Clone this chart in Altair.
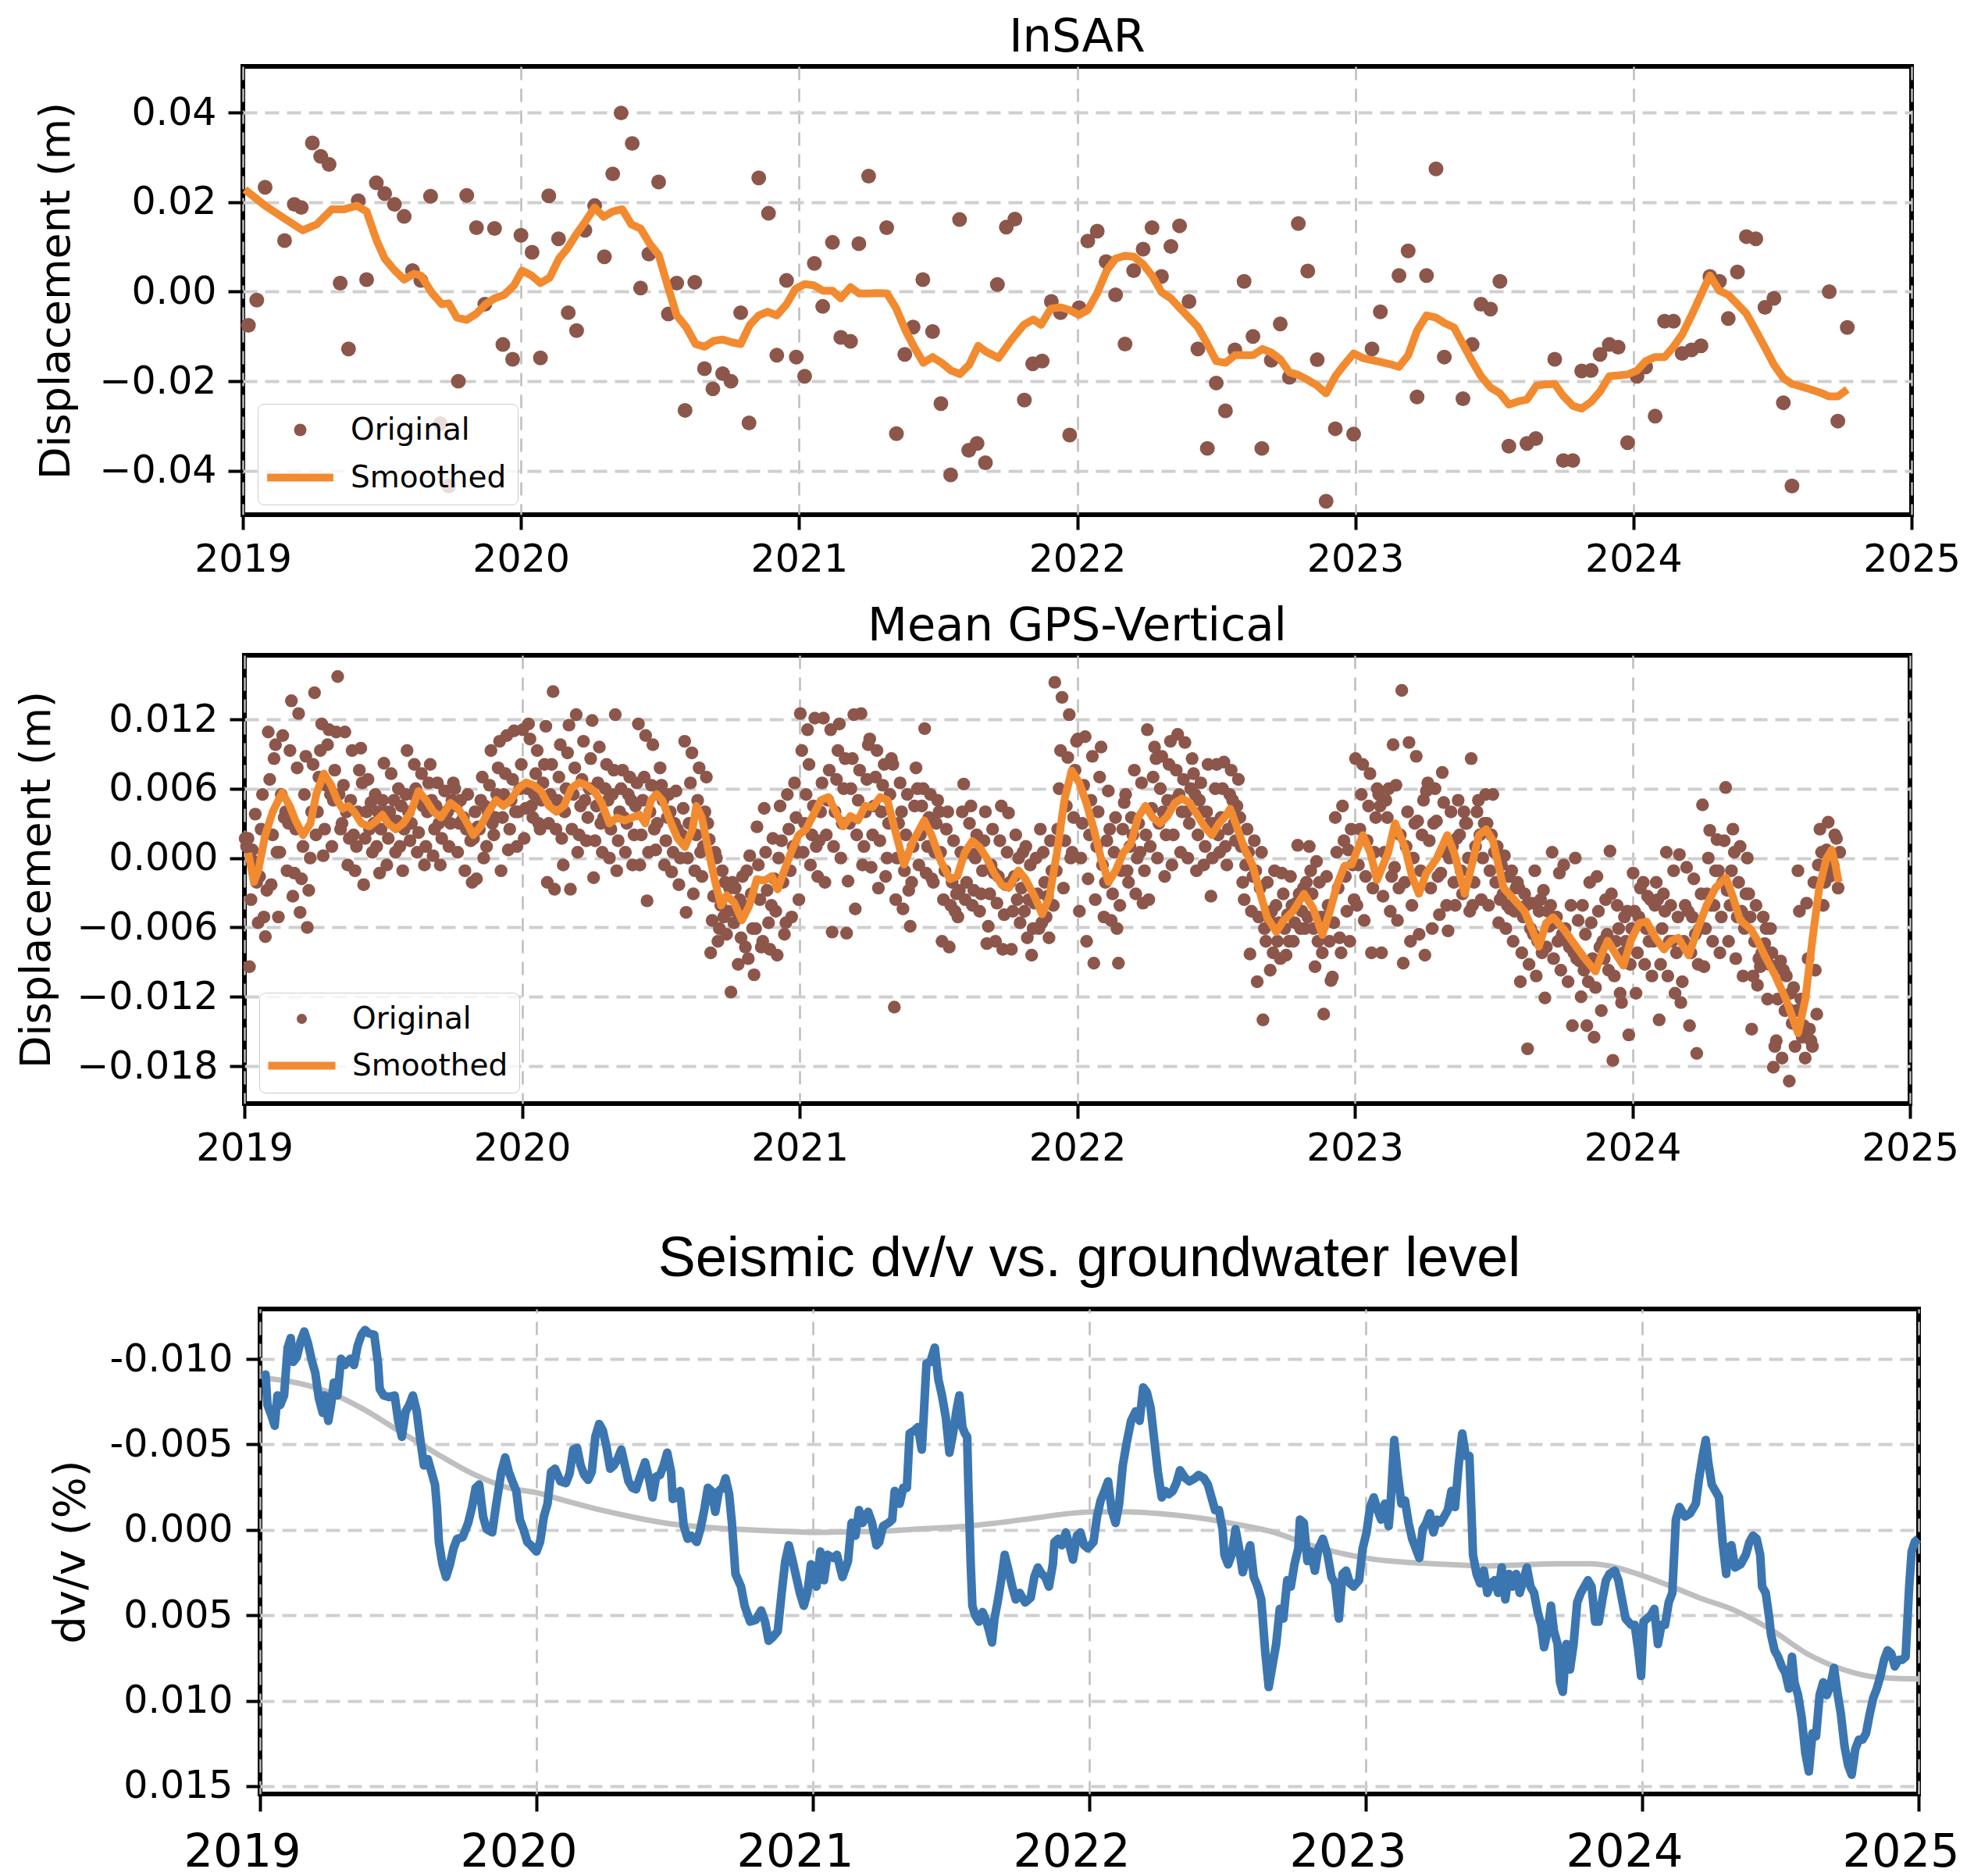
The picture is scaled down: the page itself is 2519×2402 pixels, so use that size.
import altair as alt
import pandas as pd

FONT = "DejaVu Sans"
BROWN = "#8c564b"
ORANGE = "#f28a30"
BLUE = "#3b76b0"
GRAY = "#bfbfbf"

# ---------------- data ----------------
years = [2019, 2020, 2021, 2022, 2023, 2024, 2025]
insar_ticks = [-0.04, -0.02, 0.0, 0.02, 0.04]
gps_ticks = [-0.018, -0.012, -0.006, 0.0, 0.006, 0.012]
dvv_ticks = [-0.010, -0.005, 0.0, 0.005, 0.010, 0.015]
series_names = ["Original", "Smoothed"]

# InSAR acquisitions: (decimal year, displacement m)
insar_points = [
    (2019.02, -0.0075), (2019.05, -0.0019), (2019.08, 0.0233), (2019.15, 0.0114), (2019.185, 0.0195),
    (2019.21, 0.0188), (2019.25, 0.0332), (2019.28, 0.0302), (2019.31, 0.0284), (2019.35, 0.0019),
    (2019.38, -0.0128), (2019.415, 0.0203), (2019.445, 0.0027), (2019.48, 0.0243), (2019.51, 0.0219),
    (2019.545, 0.0195), (2019.58, 0.0168), (2019.61, 0.0047), (2019.64, 0.0025), (2019.675, 0.0213),
    (2019.71, -0.0295), (2019.74, -0.0434), (2019.775, -0.0200), (2019.805, 0.0215), (2019.84, 0.0143),
    (2019.87, -0.0028), (2019.905, 0.0141), (2019.935, -0.0118), (2019.97, -0.0151), (2020.0, 0.0126),
    (2020.04, 0.0088), (2020.07, -0.0148), (2020.1, 0.0214), (2020.135, 0.0118), (2020.17, -0.0047),
    (2020.2, -0.0087), (2020.23, 0.0137), (2020.265, 0.0192), (2020.3, 0.0078), (2020.33, 0.0263),
    (2020.36, 0.0399), (2020.4, 0.0331), (2020.43, 0.0008), (2020.46, 0.0084), (2020.495, 0.0245),
    (2020.53, -0.0050), (2020.56, 0.0019), (2020.59, -0.0265), (2020.625, 0.0021), (2020.66, -0.0172),
    (2020.69, -0.0217), (2020.725, -0.0183), (2020.755, -0.0200), (2020.79, -0.0047), (2020.82, -0.0293),
    (2020.855, 0.0254), (2020.89, 0.0175), (2020.92, -0.0142), (2020.955, 0.0025), (2020.99, -0.0146),
    (2021.02, -0.0189), (2021.055, 0.0063), (2021.085, -0.0033), (2021.12, 0.0110), (2021.15, -0.0102),
    (2021.185, -0.0111), (2021.215, 0.0107), (2021.25, 0.0258), (2021.315, 0.0143), (2021.35, -0.0317),
    (2021.38, -0.0140), (2021.41, -0.0079), (2021.445, 0.0027), (2021.48, -0.0089), (2021.51, -0.0250),
    (2021.545, -0.0409), (2021.577, 0.0161), (2021.61, -0.0354), (2021.64, -0.0339), (2021.67, -0.0382),
    (2021.713, 0.0016), (2021.745, 0.0144), (2021.776, 0.0162), (2021.81, -0.0242), (2021.84, -0.0161),
    (2021.874, -0.0155), (2021.907, -0.0022), (2021.94, -0.0047), (2021.973, -0.0320), (2022.007, -0.0036),
    (2022.038, 0.0113), (2022.072, 0.0135), (2022.104, 0.0067), (2022.138, -0.0007), (2022.172, -0.0117),
    (2022.203, 0.0047), (2022.237, 0.0095), (2022.269, 0.0143), (2022.303, 0.0034), (2022.337, 0.0101),
    (2022.368, 0.0147), (2022.402, -0.0022), (2022.434, -0.0128), (2022.468, -0.0350), (2022.5, -0.0204),
    (2022.533, -0.0266), (2022.567, -0.0130), (2022.6, 0.0023), (2022.632, -0.0100), (2022.664, -0.0350),
    (2022.698, -0.0153), (2022.73, -0.0072), (2022.763, -0.0191), (2022.795, 0.0152), (2022.829, 0.0046),
    (2022.863, -0.0152), (2022.895, -0.0468), (2022.928, -0.0306), (2022.994, -0.0318), (2023.06, -0.0128),
    (2023.09, -0.0045), (2023.157, 0.0036), (2023.19, 0.0091), (2023.222, -0.0235), (2023.256, 0.0036),
    (2023.29, 0.0274), (2023.32, -0.0146), (2023.387, -0.0239), (2023.42, -0.0118), (2023.452, -0.0028),
    (2023.486, -0.0039), (2023.52, 0.0023), (2023.552, -0.0345), (2023.617, -0.0339), (2023.649, -0.0328),
    (2023.717, -0.0151), (2023.748, -0.0377), (2023.782, -0.0377), (2023.814, -0.0177), (2023.848, -0.0176),
    (2023.88, -0.0140), (2023.913, -0.0118), (2023.945, -0.0124), (2023.979, -0.0337), (2024.013, -0.0189),
    (2024.044, -0.0168), (2024.078, -0.0278), (2024.112, -0.0066), (2024.144, -0.0066), (2024.175, -0.0138),
    (2024.209, -0.0130), (2024.243, -0.0121), (2024.275, 0.0034), (2024.309, 0.0023), (2024.341, -0.0060),
    (2024.374, 0.0044), (2024.406, 0.0123), (2024.44, 0.0118), (2024.473, -0.0035), (2024.505, -0.0015),
    (2024.539, -0.0248), (2024.57, -0.0434), (2024.704, 0.0000), (2024.735, -0.0289), (2024.769, -0.0080),
]

insar_smoothed = [
    (2019.007, 0.0228), (2019.08, 0.0192), (2019.15, 0.0163), (2019.215, 0.0137), (2019.265, 0.0150),
    (2019.32, 0.0184), (2019.365, 0.0184), (2019.41, 0.0192), (2019.445, 0.0179), (2019.48, 0.0116),
    (2019.51, 0.0074), (2019.545, 0.0048), (2019.58, 0.0027), (2019.615, 0.0040), (2019.64, 0.0036),
    (2019.68, -0.0003), (2019.715, -0.0028), (2019.74, -0.0026), (2019.77, -0.0058), (2019.805, -0.0063),
    (2019.84, -0.0049), (2019.873, -0.0028), (2019.905, -0.0015), (2019.94, -0.0007), (2019.975, 0.0014),
    (2020.004, 0.0047), (2020.038, 0.0036), (2020.07, 0.0019), (2020.103, 0.0031), (2020.137, 0.0074),
    (2020.165, 0.0095), (2020.2, 0.0129), (2020.233, 0.0158), (2020.265, 0.0188), (2020.297, 0.0167),
    (2020.33, 0.0179), (2020.364, 0.0184), (2020.397, 0.0150), (2020.43, 0.0141), (2020.463, 0.0107),
    (2020.495, 0.0082), (2020.527, 0.0014), (2020.56, -0.0053), (2020.594, -0.0079), (2020.628, -0.0117),
    (2020.66, -0.0123), (2020.693, -0.0110), (2020.725, -0.0107), (2020.758, -0.0113), (2020.79, -0.0117),
    (2020.823, -0.0074), (2020.855, -0.0053), (2020.887, -0.0045), (2020.92, -0.0053), (2020.955, -0.0028),
    (2020.987, 0.0006), (2021.02, 0.0017), (2021.054, 0.0014), (2021.086, 0.0002), (2021.12, 0.0002),
    (2021.15, -0.0015), (2021.185, 0.0010), (2021.216, -0.0004), (2021.25, -0.0004), (2021.282, -0.0003),
    (2021.316, -0.0004), (2021.348, -0.0036), (2021.383, -0.0087), (2021.415, -0.0125), (2021.447, -0.0159),
    (2021.48, -0.0146), (2021.513, -0.0159), (2021.546, -0.0176), (2021.578, -0.0184), (2021.612, -0.0163),
    (2021.644, -0.0121), (2021.672, -0.0134), (2021.717, -0.0148), (2021.763, -0.0108), (2021.808, -0.0074),
    (2021.842, -0.0062), (2021.87, -0.0074), (2021.905, -0.0038), (2021.94, -0.0035), (2021.973, -0.0041),
    (2022.007, -0.0052), (2022.038, -0.0041), (2022.072, -0.0003), (2022.106, 0.0047), (2022.138, 0.0074),
    (2022.172, 0.0080), (2022.203, 0.0078), (2022.237, 0.0061), (2022.269, 0.0036), (2022.303, -0.0001),
    (2022.337, -0.0015), (2022.368, -0.0036), (2022.402, -0.0058), (2022.434, -0.0079), (2022.468, -0.0117),
    (2022.5, -0.0155), (2022.533, -0.0159), (2022.567, -0.0142), (2022.6, -0.0142), (2022.632, -0.0142),
    (2022.666, -0.0128), (2022.698, -0.0136), (2022.73, -0.0151), (2022.763, -0.0180), (2022.795, -0.0186),
    (2022.829, -0.0197), (2022.863, -0.0210), (2022.895, -0.0227), (2022.928, -0.0189), (2022.96, -0.0163),
    (2022.994, -0.0138), (2023.026, -0.0148), (2023.06, -0.0153), (2023.09, -0.0157), (2023.125, -0.0162),
    (2023.157, -0.0168), (2023.19, -0.0142), (2023.222, -0.0087), (2023.256, -0.0053), (2023.29, -0.0058),
    (2023.32, -0.0070), (2023.355, -0.0080), (2023.387, -0.0117), (2023.42, -0.0155), (2023.452, -0.0189),
    (2023.486, -0.0214), (2023.52, -0.0227), (2023.552, -0.0252), (2023.586, -0.0245), (2023.617, -0.0241),
    (2023.651, -0.0210), (2023.683, -0.0207), (2023.717, -0.0206), (2023.748, -0.0233), (2023.782, -0.0255),
    (2023.814, -0.0261), (2023.848, -0.0246), (2023.88, -0.0223), (2023.913, -0.0189), (2023.945, -0.0187),
    (2023.979, -0.0185), (2024.013, -0.0176), (2024.044, -0.0155), (2024.078, -0.0146), (2024.112, -0.0146),
    (2024.144, -0.0123), (2024.175, -0.0096), (2024.209, -0.0053), (2024.243, -0.0007), (2024.275, 0.0036),
    (2024.309, 0.0002), (2024.341, -0.0007), (2024.374, -0.0028), (2024.406, -0.0049), (2024.44, -0.0087),
    (2024.473, -0.0125), (2024.505, -0.0163), (2024.539, -0.0193), (2024.57, -0.0206), (2024.604, -0.0212),
    (2024.636, -0.0218), (2024.67, -0.0225), (2024.704, -0.0234), (2024.735, -0.0234), (2024.769, -0.0218),
]

# GPS daily solutions, in mm, grouped per month (Jan..Dec) for each year
gps_2019 = [
    [1.7, 0.7, -1.6, -2.8, -3.6, -5.6, -6.8, -9.4, -2.1, -5.1, 1.7, 3.8, 5.5, 1.0, -0.3, 2.5],
    [10.9, 9.8, 10.6, 9.3, 8.6, 5.5, 3.0, 2.0, 0.5, -1.1, -2.3, -5.1, 4.0, 6.8, 0.5, 3.5],
    [13.6, 12.5, 8.8, 8.1, 7.8, 5.5, 4.0, 2.5, 1.0, 0.0, -1.3, -1.8, -2.8, -3.3, -4.7, -6.0],
    [14.3, 11.6, 11.1, 10.9, 9.3, 9.8, 7.6, 7.0, 6.3, 5.0, 4.0, 2.5, 1.0, 2.0, 0.2, 5.5],
    [15.7, 10.9, 9.3, 7.6, 6.3, 5.0, 4.0, 3.0, 1.7, 1.0, 2.5, -0.6, -1.1, 5.5, 4.0, 2.0],
    [9.5, 6.8, 5.5, 5.0, 4.0, 3.0, 2.5, 1.7, 0.5, -1.3, -2.3, 4.8, 4.0, 6.5, 2.5, 1.0],
    [8.2, 7.3, 6.0, 5.5, 4.0, 3.2, 2.5, 1.7, 0.5, -1.1, -0.6, 5.0, 4.5, 4.0, 3.0, 1.0],
    [9.3, 8.1, 7.3, 6.5, 5.5, 5.0, 4.0, 3.0, 2.2, 1.0, 1.5, 0.5, -0.6, 4.0, 6.0, 4.5],
    [8.1, 6.5, 5.8, 5.0, 4.5, 3.5, 3.0, 2.5, 1.7, 1.0, 0.2, -0.6, 4.0, 5.0, 3.0, 4.0],
    [6.5, 5.0, 5.5, 4.0, 3.0, 2.5, 1.7, 0.5, -1.1, -2.1, 4.5, 3.5, 1.5, 6.0, 3.2, 2.5],
    [-1.8, 0.0, 9.3, 7.8, 7.0, 6.3, 5.5, 5.0, 4.0, 3.5, 2.5, 1.0, 2.0, 2.7, 4.5, 3.0],
    [10.1, 10.6, 11.0, 8.1, 7.3, 6.8, 6.0, 5.5, 5.0, 4.0, 3.5, 2.5, 1.0, -1.1, 0.7, 4.0],
]
gps_2020 = [
    [11.1, 10.3, 9.3, 8.1, 11.6, 7.3, 6.5, 6.0, 5.5, 5.0, 4.3, 3.5, 2.5, 1.7, 4.5, 3.0],
    [11.4, 14.4, 9.8, 9.1, 8.1, 7.0, 6.0, 5.5, 5.0, 4.0, 3.0, 2.5, -0.6, -2.1, -2.7, 1.7],
    [11.5, 12.4, 10.1, 8.6, 7.8, 6.8, 6.0, 5.5, 4.5, 3.5, 2.5, 2.0, 1.5, -2.7, 0.5, 5.0],
    [11.9, 9.6, 8.1, 7.6, 6.5, 6.0, 5.5, 4.5, 3.5, 2.5, 1.5, 0.5, 0.0, -1.7, 3.0, 5.0],
    [12.4, 7.6, 7.0, 6.5, 6.0, 5.5, 4.5, 4.0, 3.0, 2.0, 1.5, 0.5, -0.6, -1.1, 3.5, 5.0],
    [11.6, 10.6, 9.8, 7.8, 7.0, 6.3, 5.5, 5.0, 4.0, 3.0, 2.0, 0.5, 0.7, -0.6, -3.7, 2.5],
    [6.3, 5.5, 5.8, 4.3, 3.5, 3.0, 2.0, 1.5, 0.5, 0.0, -0.6, -1.2, -2.3, 5.0, 4.0, 2.5],
    [10.1, 9.1, 7.8, 7.0, 6.5, 5.0, 4.0, 3.0, 2.0, 1.0, 0.0, -1.1, -1.6, -4.7, -3.1, 0.5],
    [3.0, 0.5, -1.1, -2.6, -3.3, -4.1, -4.6, -5.4, -6.1, -6.6, -8.2, -7.2, -2.1, 1.6, 0.0, -5.1],
    [-11.6, -9.2, -7.7, -6.1, -4.6, -4.1, -3.1, -2.6, -1.6, 0.2, -5.6, -6.9, -8.7, -2.1, -3.6, -1.1],
    [-10.1, -7.7, -5.6, -4.6, -3.6, -2.8, -1.8, -0.6, 0.5, 1.7, 2.7, 4.3, -4.1, -6.1, -7.2, -7.9],
    [-8.4, -6.6, -5.1, -3.6, -2.1, -1.1, 0.5, 1.5, 2.5, 3.5, 4.5, 5.5, 6.5, 0.0, -5.6, 1.0],
]
gps_2021 = [
    [12.5, 11.1, 12.1, 6.5, 5.5, 4.5, 4.0, 3.0, 2.0, 1.5, 0.5, -0.6, -1.6, 9.3, 8.1, 1.0],
    [12.1, 11.1, 9.3, 8.6, 7.6, 6.8, 6.0, 5.0, 4.0, 3.0, 2.0, 1.0, 0.0, -2.1, -6.4, 11.6],
    [-6.5, 12.4, 12.5, 9.8, 8.6, 7.6, 6.8, 6.0, 5.0, 4.0, 3.0, 2.0, 1.0, -2.0, -4.4, -0.6],
    [10.3, 9.3, 8.1, 8.6, 7.0, 6.3, 5.5, 4.5, 4.0, 3.0, 2.0, 1.5, 0.0, -0.8, -2.6, -1.6],
    [8.1, 6.5, 5.5, 4.5, 3.0, 2.0, 1.0, 0.0, -1.1, -2.1, -3.6, -4.4, -5.9, -12.9, 4.0, -2.8],
    [7.8, 6.0, 5.5, 5.0, 4.5, 3.5, 3.0, 2.0, 1.0, 0.5, -0.6, -1.3, -2.1, 6.0, 11.2, -1.8],
    [4.0, 2.5, 1.5, 0.5, -1.1, -2.1, -2.8, -3.6, -4.1, -5.1, -7.2, -7.7, -3.1, 0.5, 4.0, -4.6],
    [4.0, 3.0, 2.0, 1.5, 0.5, 0.0, -1.1, -2.1, -2.8, -3.1, -3.6, -4.1, -4.6, 6.4, 4.5, 0.5],
    [4.0, 2.5, 1.5, 0.5, -0.6, -1.6, -2.3, -3.1, -3.9, -4.9, -5.9, -7.2, -7.9, -7.4, -1.3, 4.5],
    [3.9, 2.0, 0.5, -0.6, -1.6, -2.6, -3.6, -4.6, -5.6, -6.9, -7.9, 0.0, 1.0, -2.1, -3.6, -4.6],
    [-8.4, -6.1, -5.1, -4.1, -3.1, -2.1, -1.1, 0.0, 0.5, 1.5, -3.9, -5.6, -6.9, -6.1, 2.5, -3.3],
    [15.2, 13.9, 12.4, 10.1, 9.3, 8.7, 7.6, 6.0, 4.5, 3.5, 2.5, 1.5, 0.5, -1.1, -2.6, 0.0],
]
gps_2022 = [
    [10.3, 10.5, 8.8, 7.0, 6.3, 5.0, 4.0, 3.0, 2.0, 1.0, 0.0, -1.8, -3.6, -4.6, -7.2, -9.1],
    [9.6, 5.8, 3.5, 2.5, 1.5, 0.5, -1.1, -2.1, -3.1, -4.1, -5.1, -5.4, -9.1, -0.6, 2.5, -6.1],
    [4.8, 3.5, 3.0, 2.0, 1.0, 0.0, -1.1, -2.1, -3.1, -3.9, -1.1, 7.6, 6.5, 5.5, 2.0, 0.5],
    [11.1, 9.6, 8.8, 8.1, 7.0, 6.0, 5.0, 4.3, 3.0, 2.0, 1.0, 0.0, -1.6, -3.6, 8.6, 4.0],
    [10.1, 10.7, 10.0, 8.6, 7.6, 6.8, 6.0, 5.0, 4.0, 3.0, 2.0, 0.5, 0.0, -0.6, 5.5, 4.0],
    [7.3, 6.5, 8.1, 6.0, 5.0, 4.0, 3.0, 2.0, 1.0, 0.0, -1.1, -0.6, -3.3, 5.5, 4.0, 3.0],
    [8.1, 8.3, 7.6, 6.8, 6.0, 5.5, 4.5, 3.5, 2.5, 1.5, 0.5, -0.6, 3.0, 2.0, 1.0, 5.0],
    [3.5, 2.5, 1.5, 0.5, -0.6, -1.6, -2.6, -3.6, -4.6, -5.1, -2.1, -8.3, -10.7, 1.0, 0.5, -1.1],
    [-14.0, -9.7, -7.2, -6.1, -5.1, -4.1, -3.1, -2.1, -1.1, -1.3, -7.2, -8.2, -8.7, -6.1, -4.6, -5.6],
    [-8.4, -7.2, -6.1, -5.1, -4.1, -3.1, -2.1, -1.6, 1.1, -6.1, -7.2, -3.9, -2.6, -4.9, -5.6, -4.6],
    [1.0, -0.3, -13.5, -10.6, -9.4, -8.2, -7.2, -6.1, -5.1, -4.1, -3.1, -2.1, -1.6, -1.1, -7.2, -5.1],
    [-10.3, -6.9, -4.6, -3.6, -2.6, -1.6, -0.6, 0.5, 1.5, 2.5, 3.5, 4.5, -7.2, -5.6, -8.2, 0.7],
]
gps_2023 = [
    [8.6, 8.1, 7.3, 6.0, 5.5, 4.5, 3.5, 2.5, 1.5, 0.5, -0.6, -1.6, -2.6, -4.1, -5.4, -8.2],
    [5.5, 5.0, 9.8, 2.0, 0.5, -1.6, -2.6, -3.3, -4.6, -5.4, -8.2, 6.0, 6.3, 4.5, 3.5, -0.8],
    [14.5, 10.0, 8.8, 5.0, 4.0, 3.0, 2.0, 1.0, 0.0, -1.1, -2.1, -4.1, -6.6, -9.1, -7.2, 3.2],
    [-8.4, -6.1, -4.9, -4.1, -2.6, -1.6, 0.5, 1.5, 3.2, 4.8, 6.5, 6.0, 7.4, 5.8, 3.0, -1.3],
    [-6.3, -4.1, -3.1, -4.6, -2.1, -1.1, 0.0, 1.0, 2.0, 3.0, 4.0, 5.0, 3.0, 0.0, 1.7, 4.0],
    [8.6, 5.0, 5.5, 5.5, 4.0, 3.0, 2.0, 1.0, 0.0, -1.1, -2.1, -3.6, -4.1, -4.1, 2.0, 3.0],
    [0.5, -0.6, -1.6, -2.6, -3.6, -4.1, -4.6, -5.6, -6.1, -7.2, 1.0, 0.2, -1.1, -2.1, -3.1, -4.4],
    [-2.1, -3.1, -3.9, -4.6, -5.1, -6.1, -7.2, -8.2, -9.2, -10.2, -10.7, -16.5, -1.1, -2.6, -4.1, -6.6],
    [-3.6, -4.6, -5.6, -6.6, -7.7, -8.7, -9.7, -12.1, 0.5, -1.3, -2.8, -4.1, -7.2, -8.2, -5.9, -5.1],
    [-0.6, -4.1, -5.4, -6.6, -7.7, -8.7, -9.7, -10.7, 0.0, -4.1, -7.2, -8.2, -12.0, -6.1, -14.5, -8.9],
    [-14.5, -15.5, -13.2, -9.7, -8.7, -7.7, -6.6, -5.6, -4.6, -3.6, -2.1, -1.6, -8.7, -10.7, -11.2, -7.2],
    [0.6, -4.1, -5.1, -6.1, -7.2, -8.2, -9.2, -10.2, -12.5, -15.3, -17.5, -11.7, -4.6, -3.1, -6.1, -7.2],
]
gps_2024 = [
    [-1.3, -2.6, -3.3, -4.1, -5.1, -6.1, -7.2, -8.2, -9.2, -10.2, -11.7, -2.1, -3.6, -4.6, -5.6, -7.2],
    [-2.1, -3.1, -4.1, -5.1, -6.1, -7.2, -8.2, -9.2, -10.2, -11.7, -14.0, 0.5, -1.1, -3.6, -4.6, -7.2],
    [0.3, -0.8, -1.8, -3.1, -4.1, -5.1, -6.1, -7.2, -8.2, -9.2, -10.7, -14.5, -16.9, -12.5, -4.6, -6.6],
    [4.6, 2.4, 1.6, 1.5, 0.0, -1.1, -2.1, -3.1, -4.1, -5.1, -6.1, -7.2, -8.2, -9.4, -4.1, -1.1],
    [6.1, 2.5, 1.0, 0.0, -1.1, -2.1, -3.1, -4.1, -5.1, -6.1, -7.2, -8.7, -10.2, -2.8, 0.5, -4.6],
    [-3.1, -4.1, -5.1, -6.1, -7.2, -8.2, -9.2, -10.2, -9.4, -12.2, -14.8, -8.7, -6.1, -5.1, -11.0, -7.4],
    [-8.2, -9.2, -10.2, -11.2, -12.2, -13.2, -14.3, -15.8, -9.7, -11.7, -16.3, -17.3, -19.3, -18.1, -8.9, -13.0],
    [-16.3, -15.5, -14.8, -13.5, -12.2, -8.7, -9.7, -4.6, -3.9, -2.1, -1.1, -17.3, -16.3, -13.2, -14.5, -15.8],
    [-0.6, 0.7, 2.0, 2.5, 3.1, 1.7, 0.5, -1.6, -2.6, -4.1, -1.1, 0.5, -2.1, -0.6],
]

# GPS smoothed curve: (decimal year, mm)
gps_smoothed = [
    (2019.014, 0.46), (2019.034, -2.08), (2019.05, -1.07), (2019.075, 1.98), (2019.102, 4.0), (2019.136, 5.66),
    (2019.163, 4.51), (2019.184, 3.25), (2019.211, 1.98), (2019.238, 2.99), (2019.259, 5.53), (2019.286, 7.3),
    (2019.313, 6.29), (2019.334, 5.02), (2019.354, 4.26), (2019.375, 4.51), (2019.395, 4.0), (2019.422, 2.99),
    (2019.45, 2.74), (2019.477, 3.25), (2019.497, 3.75), (2019.518, 2.99), (2019.545, 2.49), (2019.572, 2.99),
    (2019.6, 4.0), (2019.627, 5.78), (2019.654, 5.02), (2019.681, 4.0), (2019.708, 3.5), (2019.742, 4.77),
    (2019.77, 4.26), (2019.797, 3.25), (2019.824, 1.98), (2019.851, 2.74), (2019.879, 4.0), (2019.906, 5.02),
    (2019.933, 4.51), (2019.96, 5.02), (2019.988, 6.04), (2020.015, 6.54), (2020.042, 6.29), (2020.069, 5.78),
    (2020.097, 4.51), (2020.124, 4.0), (2020.151, 4.51), (2020.178, 6.04), (2020.206, 6.54), (2020.233, 6.29),
    (2020.26, 5.78), (2020.287, 4.77), (2020.315, 2.99), (2020.342, 3.5), (2020.369, 3.25), (2020.396, 3.5),
    (2020.424, 3.75), (2020.444, 2.99), (2020.465, 5.02), (2020.485, 5.53), (2020.505, 5.02), (2020.533, 3.25),
    (2020.56, 1.72), (2020.587, 0.96), (2020.614, 2.49), (2020.628, 4.51), (2020.648, 3.5), (2020.669, 0.96),
    (2020.696, -2.08), (2020.717, -4.11), (2020.737, -3.22), (2020.764, -3.85), (2020.792, -5.38), (2020.819, -4.11),
    (2020.846, -1.83), (2020.873, -1.95), (2020.9, -1.57), (2020.921, -2.71), (2020.941, -1.32), (2020.969, 0.46),
    (2020.996, 1.98), (2021.023, 2.49), (2021.05, 3.75), (2021.077, 5.02), (2021.104, 5.27), (2021.13, 4.0),
    (2021.157, 2.74), (2021.183, 3.63), (2021.21, 3.25), (2021.236, 4.51), (2021.263, 4.39), (2021.29, 5.27),
    (2021.316, 5.02), (2021.343, 2.49), (2021.376, -0.56), (2021.409, 1.47), (2021.449, 3.25), (2021.475, 1.98),
    (2021.509, -0.3), (2021.542, -1.83), (2021.568, -1.57), (2021.595, 0.46), (2021.622, 1.47), (2021.648, 0.96),
    (2021.675, -0.05), (2021.701, -1.32), (2021.728, -2.33), (2021.754, -2.59), (2021.788, -1.07), (2021.814, -1.83),
    (2021.847, -3.35), (2021.874, -4.87), (2021.9, -3.35), (2021.927, 0.46), (2021.954, 5.02), (2021.98, 7.56),
    (2022.007, 6.54), (2022.033, 4.77), (2022.06, 2.49), (2022.086, -0.05), (2022.113, -2.08), (2022.139, -1.07),
    (2022.166, 0.46), (2022.193, 1.22), (2022.219, 3.5), (2022.246, 4.51), (2022.272, 3.5), (2022.299, 2.99),
    (2022.325, 3.63), (2022.352, 4.77), (2022.378, 5.15), (2022.405, 4.77), (2022.432, 3.75), (2022.458, 2.74),
    (2022.485, 1.98), (2022.511, 2.99), (2022.538, 3.75), (2022.551, 4.26), (2022.578, 2.49), (2022.604, 0.71),
    (2022.631, -0.56), (2022.657, -2.84), (2022.684, -5.12), (2022.717, -6.39), (2022.744, -5.38), (2022.777, -4.62),
    (2022.817, -3.09), (2022.85, -4.36), (2022.883, -6.64), (2022.91, -4.62), (2022.936, -2.33), (2022.963, -0.68),
    (2022.989, -0.56), (2023.029, 1.98), (2023.056, 0.46), (2023.08, -1.9), (2023.12, 0.46), (2023.145, 3.0),
    (2023.18, 0.96), (2023.206, -1.57), (2023.231, -3.09), (2023.257, -1.32), (2023.295, -0.05), (2023.333, 1.98),
    (2023.358, 0.46), (2023.396, -3.09), (2023.422, -0.56), (2023.447, 1.98), (2023.473, 2.49), (2023.498, 1.47),
    (2023.536, -2.59), (2023.574, -3.6), (2023.612, -4.62), (2023.638, -6.14), (2023.663, -7.66), (2023.689, -5.63),
    (2023.714, -5.12), (2023.752, -6.14), (2023.79, -7.41), (2023.828, -8.67), (2023.867, -9.81), (2023.892, -8.17),
    (2023.911, -7.15), (2023.943, -8.42), (2023.968, -9.31), (2023.994, -7.15), (2024.025, -5.63), (2024.051, -5.5),
    (2024.083, -6.9), (2024.114, -7.91), (2024.14, -7.15), (2024.165, -6.9), (2024.203, -8.42), (2024.235, -6.14),
    (2024.267, -4.11), (2024.299, -2.59), (2024.337, -1.7), (2024.362, -3.35), (2024.388, -5.38), (2024.426, -6.14),
    (2024.451, -7.15), (2024.476, -8.42), (2024.515, -10.19), (2024.553, -12.22), (2024.597, -15.14), (2024.623, -12.22),
    (2024.648, -7.15), (2024.673, -2.59), (2024.699, -0.05), (2024.718, 0.71), (2024.731, -0.56), (2024.743, -2.08),
]

# seismic dv/v (decimal year, value x 1e-3)
dvv_series = [
    (2019.007, -8.99), (2019.02, -9.09), (2019.027, -7.31), (2019.04, -6.75), (2019.053, -6.10), (2019.063, -7.87),
    (2019.073, -7.31), (2019.087, -7.87), (2019.1, -10.67), (2019.111, -11.23), (2019.12, -9.83), (2019.133, -10.11),
    (2019.147, -11.05), (2019.16, -11.61), (2019.173, -10.95), (2019.187, -9.93), (2019.2, -9.18), (2019.213, -7.69),
    (2019.227, -6.85), (2019.233, -7.87), (2019.247, -6.38), (2019.257, -7.31), (2019.267, -8.62), (2019.28, -7.87),
    (2019.293, -10.02), (2019.307, -9.65), (2019.327, -10.02), (2019.34, -9.65), (2019.353, -10.77), (2019.367, -11.42),
    (2019.38, -11.70), (2019.393, -11.51), (2019.413, -11.42), (2019.427, -9.74), (2019.433, -8.25), (2019.447, -7.87),
    (2019.467, -7.78), (2019.487, -7.87), (2019.5, -6.38), (2019.513, -5.45), (2019.527, -6.94), (2019.54, -7.31),
    (2019.553, -7.87), (2019.567, -6.94), (2019.58, -5.26), (2019.593, -3.77), (2019.607, -4.14), (2019.62, -3.40),
    (2019.633, -2.65), (2019.64, -1.34), (2019.647, 0.71), (2019.66, 2.02), (2019.673, 2.76), (2019.687, 2.02),
    (2019.7, 1.08), (2019.713, 0.52), (2019.733, 0.43), (2019.753, -0.41), (2019.767, -1.34), (2019.78, -2.46),
    (2019.793, -2.65), (2019.807, -0.78), (2019.82, -0.04), (2019.84, 0.15), (2019.853, -1.34), (2019.873, -3.40),
    (2019.887, -4.24), (2019.9, -3.40), (2019.913, -2.84), (2019.927, -2.28), (2019.94, -0.60), (2019.953, -0.04),
    (2019.967, 0.71), (2019.98, 0.90), (2020.0, 1.27), (2020.013, 0.71), (2020.027, -0.78), (2020.04, -1.53),
    (2020.053, -3.40), (2020.067, -3.58), (2020.087, -2.84), (2020.107, -2.74), (2020.12, -3.30), (2020.133, -4.70),
    (2020.147, -4.80), (2020.16, -3.77), (2020.173, -3.21), (2020.187, -2.93), (2020.2, -3.40), (2020.213, -5.45),
    (2020.227, -6.20), (2020.24, -5.82), (2020.253, -4.89), (2020.267, -3.58), (2020.28, -3.77), (2020.293, -4.14),
    (2020.307, -4.70), (2020.32, -3.77), (2020.333, -2.84), (2020.347, -2.46), (2020.36, -2.37), (2020.373, -3.02),
    (2020.393, -3.96), (2020.407, -3.02), (2020.42, -1.90), (2020.433, -3.12), (2020.447, -3.21), (2020.46, -3.77),
    (2020.473, -4.52), (2020.487, -3.40), (2020.493, -1.81), (2020.507, -1.90), (2020.52, -2.28), (2020.533, -0.22),
    (2020.547, 0.52), (2020.56, 0.34), (2020.58, 0.71), (2020.593, -0.04), (2020.607, -1.16), (2020.62, -2.46),
    (2020.633, -2.28), (2020.647, -1.06), (2020.66, -2.28), (2020.673, -2.46), (2020.684, -3.02), (2020.697, -2.09),
    (2020.707, -0.41), (2020.72, 2.58), (2020.74, 3.32), (2020.753, 4.44), (2020.773, 5.37), (2020.793, 5.28),
    (2020.813, 4.72), (2020.827, 5.37), (2020.84, 6.49), (2020.853, 6.31), (2020.873, 5.93), (2020.887, 3.69),
    (2020.9, 1.83), (2020.913, 0.90), (2020.927, 1.83), (2020.94, 2.76), (2020.953, 3.69), (2020.967, 4.44),
    (2020.98, 3.69), (2020.993, 2.02), (2021.0, 2.76), (2021.013, 3.32), (2021.027, 1.27), (2021.04, 2.95),
    (2021.053, 1.46), (2021.073, 1.64), (2021.087, 1.46), (2021.107, 2.76), (2021.127, 1.83), (2021.14, -0.41),
    (2021.154, 0.34), (2021.167, -1.16), (2021.18, -0.41), (2021.2, -1.06), (2021.214, -0.41), (2021.23, 0.90),
    (2021.24, 0.71), (2021.254, -0.22), (2021.274, -0.41), (2021.287, -0.60), (2021.296, -2.28), (2021.314, -1.53),
    (2021.327, -2.46), (2021.34, -2.46), (2021.35, -5.64), (2021.367, -5.82), (2021.38, -6.01), (2021.394, -4.70),
    (2021.4, -6.38), (2021.411, -9.74), (2021.425, -9.83), (2021.441, -10.67), (2021.454, -8.81), (2021.467, -7.87),
    (2021.481, -6.57), (2021.494, -4.52), (2021.507, -5.64), (2021.521, -7.13), (2021.53, -7.87), (2021.541, -6.01),
    (2021.55, -5.64), (2021.558, -5.45), (2021.563, -2.28), (2021.571, 2.02), (2021.577, 4.44), (2021.587, 5.00),
    (2021.601, 5.37), (2021.614, 4.81), (2021.628, 5.37), (2021.638, 5.93), (2021.648, 6.59), (2021.657, 5.19),
    (2021.668, 4.25), (2021.681, 2.95), (2021.694, 1.46), (2021.708, 2.39), (2021.721, 3.32), (2021.734, 4.07),
    (2021.748, 3.69), (2021.768, 4.25), (2021.788, 3.97), (2021.801, 2.76), (2021.814, 2.20), (2021.828, 2.58),
    (2021.841, 2.76), (2021.854, 3.32), (2021.868, 2.02), (2021.874, 0.71), (2021.888, 0.52), (2021.901, 0.90),
    (2021.915, 0.15), (2021.928, 0.90), (2021.941, 1.74), (2021.955, 0.34), (2021.968, 0.15), (2021.981, 0.90),
    (2021.995, 1.08), (2022.015, 0.71), (2022.028, -0.78), (2022.041, -1.72), (2022.055, -2.28), (2022.068, -2.84),
    (2022.081, -1.16), (2022.095, -0.41), (2022.108, -1.53), (2022.121, -3.77), (2022.135, -5.08), (2022.151, -6.38),
    (2022.168, -6.94), (2022.182, -6.38), (2022.195, -8.34), (2022.208, -8.06), (2022.222, -7.13), (2022.235, -5.26),
    (2022.248, -3.40), (2022.262, -1.90), (2022.275, -2.28), (2022.288, -2.09), (2022.302, -2.28), (2022.315, -2.74),
    (2022.328, -3.49), (2022.348, -3.02), (2022.362, -2.84), (2022.382, -3.02), (2022.395, -3.21), (2022.415, -3.02),
    (2022.429, -2.65), (2022.442, -1.90), (2022.455, -1.16), (2022.469, -1.16), (2022.482, -0.04), (2022.489, 1.46),
    (2022.502, 2.02), (2022.515, 1.46), (2022.529, -0.04), (2022.542, 1.08), (2022.555, 2.48), (2022.569, 1.64),
    (2022.582, 0.90), (2022.595, 2.76), (2022.609, 3.32), (2022.622, 4.07), (2022.636, 7.05), (2022.649, 9.20),
    (2022.662, 7.99), (2022.676, 6.68), (2022.689, 4.63), (2022.702, 5.19), (2022.716, 2.95), (2022.729, 3.32),
    (2022.742, 2.02), (2022.756, 1.08), (2022.762, -0.60), (2022.776, -0.41), (2022.789, 1.83), (2022.802, 1.27),
    (2022.816, 2.39), (2022.829, 1.08), (2022.845, 0.52), (2022.862, 1.46), (2022.876, 2.76), (2022.889, 3.13),
    (2022.903, 5.19), (2022.916, 2.58), (2022.929, 2.39), (2022.943, 3.13), (2022.956, 3.32), (2022.976, 2.95),
    (2022.989, 1.08), (2023.003, 0.15), (2023.016, -1.34), (2023.029, -1.90), (2023.043, -1.16), (2023.056, -0.60),
    (2023.069, -1.53), (2023.083, -0.22), (2023.09, -1.53), (2023.103, -5.26), (2023.116, -3.21), (2023.129, -1.53),
    (2023.142, -1.72), (2023.155, -0.41), (2023.168, 0.52), (2023.181, 1.08), (2023.194, 1.64), (2023.206, -0.04),
    (2023.219, -0.41), (2023.232, -0.97), (2023.245, 0.15), (2023.258, -0.60), (2023.271, -0.41), (2023.284, -0.78),
    (2023.297, -1.16), (2023.31, -2.28), (2023.323, -1.34), (2023.336, -3.77), (2023.349, -5.64), (2023.362, -4.33),
    (2023.375, -4.33), (2023.388, 1.46), (2023.401, 2.58), (2023.414, 3.13), (2023.427, 2.39), (2023.44, 3.69),
    (2023.453, 3.13), (2023.466, 2.95), (2023.479, 3.69), (2023.492, 2.20), (2023.505, 4.07), (2023.518, 2.58),
    (2023.531, 3.32), (2023.544, 2.58), (2023.557, 3.69), (2023.57, 2.95), (2023.583, 2.20), (2023.596, 3.32),
    (2023.609, 3.69), (2023.622, 4.81), (2023.635, 5.56), (2023.645, 6.87), (2023.658, 5.93), (2023.67, 4.44),
    (2023.681, 5.93), (2023.694, 6.68), (2023.703, 8.92), (2023.713, 9.48), (2023.726, 6.68), (2023.739, 8.17),
    (2023.752, 6.68), (2023.765, 4.25), (2023.778, 3.69), (2023.791, 3.32), (2023.804, 2.95), (2023.817, 3.32),
    (2023.83, 5.37), (2023.843, 5.37), (2023.856, 4.07), (2023.869, 2.95), (2023.882, 2.58), (2023.901, 2.39),
    (2023.914, 2.95), (2023.927, 4.07), (2023.94, 5.19), (2023.96, 5.56), (2023.973, 5.56), (2023.986, 7.05),
    (2023.996, 8.55), (2024.005, 5.37), (2024.018, 5.19), (2024.031, 5.00), (2024.044, 4.63), (2024.057, 6.68),
    (2024.07, 5.56), (2024.083, 5.56), (2024.096, 4.25), (2024.109, 3.69), (2024.122, -0.60), (2024.135, -1.34),
    (2024.155, -0.78), (2024.174, -0.97), (2024.194, -1.53), (2024.206, -3.02), (2024.219, -4.33), (2024.23, -5.26),
    (2024.239, -3.96), (2024.252, -2.65), (2024.265, -2.28), (2024.278, -1.90), (2024.291, 0.71), (2024.304, 2.58),
    (2024.31, 1.08), (2024.323, 0.90), (2024.336, 2.20), (2024.356, 2.02), (2024.375, 1.46), (2024.388, 0.71),
    (2024.401, 0.34), (2024.414, 0.52), (2024.427, 1.46), (2024.434, 3.32), (2024.447, 3.69), (2024.46, 5.19),
    (2024.466, 6.12), (2024.479, 7.05), (2024.492, 7.43), (2024.505, 7.99), (2024.518, 8.36), (2024.531, 9.29),
    (2024.542, 7.43), (2024.551, 8.92), (2024.564, 9.67), (2024.577, 10.97), (2024.59, 13.02), (2024.603, 14.14),
    (2024.616, 11.91), (2024.629, 12.09), (2024.642, 9.67), (2024.655, 8.92), (2024.668, 9.67), (2024.681, 9.11),
    (2024.694, 8.08), (2024.706, 9.48), (2024.719, 10.79), (2024.732, 12.65), (2024.745, 13.77), (2024.758, 14.33),
    (2024.771, 12.84), (2024.784, 12.28), (2024.797, 12.28), (2024.81, 11.91), (2024.823, 10.79), (2024.836, 9.85),
    (2024.849, 9.29), (2024.862, 8.55), (2024.875, 7.61), (2024.888, 7.05), (2024.901, 7.24), (2024.914, 7.99),
    (2024.927, 7.61), (2024.94, 7.61), (2024.953, 7.43), (2024.966, 3.32), (2024.975, 1.27), (2024.986, 0.71),
    (2024.999, 0.52),
]

# groundwater-level trend drawn in grey (same axis units, x 1e-3)
gw_trend = [
    (2019.007, -8.9), (2019.1, -8.71), (2019.233, -8.15), (2019.367, -7.13), (2019.5, -5.82), (2019.633, -4.52),
    (2019.767, -3.30), (2019.9, -2.46), (2020.0, -2.18), (2020.1, -1.72), (2020.233, -1.16), (2020.367, -0.69),
    (2020.5, -0.32), (2020.633, -0.13), (2020.767, 0.0), (2020.9, 0.09), (2021.0, 0.15), (2021.134, 0.11),
    (2021.267, 0.06), (2021.4, -0.07), (2021.534, -0.19), (2021.668, -0.41), (2021.801, -0.69), (2021.935, -0.97),
    (2022.015, -1.06), (2022.135, -1.06), (2022.268, -0.93), (2022.402, -0.69), (2022.535, -0.32), (2022.669, 0.15),
    (2022.802, 0.90), (2022.936, 1.46), (2023.038, 1.74), (2023.168, 1.92), (2023.297, 2.02), (2023.427, 2.11),
    (2023.557, 2.05), (2023.687, 1.98), (2023.817, 1.98), (2023.882, 2.11), (2023.947, 2.39), (2024.0, 2.67),
    (2024.077, 3.13), (2024.206, 3.97), (2024.336, 4.72), (2024.466, 5.84), (2024.596, 7.24), (2024.726, 8.17),
    (2024.856, 8.64), (2024.999, 8.73),
]

# ---------------- tables ----------------
insar_df = pd.DataFrame([{"t": t, "v": v, "s": "Original"} for t, v in insar_points])
insar_sm_df = pd.DataFrame([{"t": t, "v": v, "s": "Smoothed"} for t, v in insar_smoothed])

gps_rows = []
for yr, months in [(2019, gps_2019), (2020, gps_2020), (2021, gps_2021),
                   (2022, gps_2022), (2023, gps_2023), (2024, gps_2024)]:
    for m, vals in enumerate(months):
        n = len(vals)
        for i, v in enumerate(vals):
            pos = (i * 5) % n  # spread the month's samples over its days
            gps_rows.append({"t": yr + (m + (pos + 0.5) / n) / 12.0, "v": v / 1000.0, "s": "Original"})
gps_df = pd.DataFrame(gps_rows)
gps_sm_df = pd.DataFrame([{"t": t, "v": v / 1000.0, "s": "Smoothed"} for t, v in gps_smoothed])

dvv_df = pd.DataFrame([{"t": t, "v": v / 1000.0} for t, v in dvv_series])
gw_df = pd.DataFrame([{"t": t, "v": v / 1000.0} for t, v in gw_trend])

INDEP = dict(fill="independent", stroke="independent", shape="independent", color="independent")


# ---------------- helpers ----------------
def x_enc(big=False):
    if big:
        ax = alt.Axis(values=years, format="d", title=None, labelFontSize=59, labelPadding=23,
                      labelOffset=-23, tickSize=22, labelFlush=False, labelOverlap=False, labelLimit=400)
    else:
        ax = alt.Axis(values=years, format="d", title=None, labelFontSize=49, labelPadding=14,
                      tickSize=19, labelFlush=False, labelOverlap=False, labelLimit=400)
    return alt.X("t:Q", scale=alt.Scale(domain=[2019, 2025], nice=False, zero=False), axis=ax)


def spacer(w):
    return alt.Chart(pd.DataFrame({"a": [0]})).mark_point(opacity=0).encode(
        x=alt.value(0), y=alt.value(0)
    ).properties(width=w, height=10, view=alt.ViewBackground(stroke="transparent", fill="transparent"))


def disp_panel(pts, sm, title, ydom, yticks, yfmt, width, height, pt_size, leg_size, leg_path, ytitle_pad):
    fill_sc = alt.Scale(domain=series_names, range=[BROWN, ORANGE])
    stroke_sc = alt.Scale(domain=series_names, range=["transparent", ORANGE])
    shape_sc = alt.Scale(domain=series_names, range=["circle", leg_path])
    leg = alt.Legend(title=None, orient="none", legendX=19, legendY=432, direction="vertical",
                     labelFont=FONT, labelFontSize=39, labelColor="black", labelLimit=400,
                     symbolStrokeWidth=10, symbolSize=leg_size, symbolOffset=21,
                     padding=14, rowPadding=12, labelOffset=45, strokeColor="#cccccc",
                     fillColor="rgba(255,255,255,0.8)", cornerRadius=8)
    y = alt.Y("v:Q", scale=alt.Scale(domain=ydom, nice=False, zero=False),
              axis=alt.Axis(values=yticks, format=yfmt, title="Displacement (m)",
                            titlePadding=ytitle_pad, titleFontSize=54, labelFontSize=49, labelLimit=400,
                            labelPadding=15, tickSize=19, labelFlush=False, labelOverlap=False))
    p = alt.Chart(pts).mark_point(filled=True, opacity=1, strokeWidth=0).encode(
        x=x_enc(), y=y,
        fill=alt.Fill("s:N", scale=fill_sc, legend=leg),
        stroke=alt.Stroke("s:N", scale=stroke_sc, legend=leg),
        shape=alt.Shape("s:N", scale=shape_sc, legend=leg),
        size=alt.value(pt_size),
    )
    l = alt.Chart(sm).mark_line(strokeWidth=10, strokeJoin="round").encode(
        x=x_enc(), y=y,
        stroke=alt.Stroke("s:N", scale=stroke_sc, legend=None),
    )
    return alt.layer(p, l).properties(
        width=width, height=height,
        title=alt.Title(title, font=FONT, fontSize=59, fontWeight="normal", color="black", offset=7),
    ).resolve_scale(**INDEP)


p1 = disp_panel(insar_df, insar_sm_df, "InSAR", [-0.0498, 0.0503], insar_ticks, ".2f",
                2137, 574, 360, 256, "M-5.3,0H5.3", 27)
p2 = disp_panel(gps_df, gps_sm_df, "Mean GPS-Vertical", [-0.02124, 0.01754], gps_ticks, ".3f",
                2133, 574, 270, 170, "M-6.6,0H6.6", 39)

y3 = alt.Y("v:Q", scale=alt.Scale(domain=[-0.01293, 0.01546], nice=False, zero=False, reverse=True),
           axis=alt.Axis(values=dvv_ticks, labelExpr="replace(format(datum.value, '.3f'), '\u2212', '-')",
                         title="dv/v (%)", titlePadding=21, titleFontSize=56, labelLimit=400,
                         labelFontSize=49, labelPadding=17, tickSize=18, labelFlush=False, labelOverlap=False))
gw_line = alt.Chart(gw_df).mark_line(color=GRAY, strokeWidth=7, interpolate="monotone").encode(x=x_enc(True), y=y3)
dvv_line = alt.Chart(dvv_df).mark_line(color=BLUE, strokeWidth=11, strokeJoin="round").encode(x=x_enc(True), y=y3)
p3 = alt.layer(gw_line, dvv_line).properties(
    width=2124, height=621,
    title=alt.Title("Seismic dv/v vs. groundwater level", font="Liberation Sans", fontSize=72,
                    fontWeight="normal", color="black", offset=27),
)

row1 = alt.hconcat(spacer(33), p1, spacing=0).resolve_scale(**INDEP).resolve_legend(**INDEP)
row2 = alt.hconcat(spacer(8), p2, spacing=0).resolve_scale(**INDEP).resolve_legend(**INDEP)
row3 = alt.hconcat(spacer(50), p3, spacing=0).resolve_scale(**INDEP).resolve_legend(**INDEP)

top = alt.vconcat(row1, row2, spacing=26).resolve_scale(**INDEP).resolve_legend(**INDEP)
chart = alt.vconcat(top, row3, spacing=75).resolve_scale(**INDEP).resolve_legend(**INDEP).properties(
    padding={"left": 0, "top": 16, "right": 0, "bottom": 0}
).configure(
    background="white", font=FONT
).configure_view(
    stroke="black", strokeWidth=6, fill="white"
).configure_axis(
    domain=False, tickColor="black", tickWidth=4, labelColor="black", titleColor="black",
    labelFont=FONT, titleFont=FONT, titleFontWeight="normal", grid=True,
).configure_axisX(
    gridColor="#bdbdbd", gridWidth=2.5, gridDash=[17, 11]
).configure_axisY(
    gridColor="#cfcfcf", gridWidth=4, gridDash=[18, 10]
)

chart.save("out.html", embed_options={"renderer": "svg", "actions": False})
